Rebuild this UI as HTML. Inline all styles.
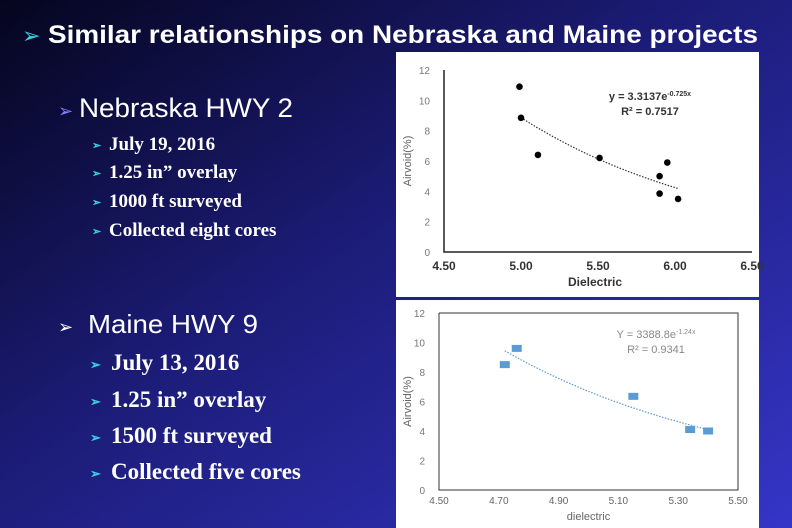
<!DOCTYPE html>
<html><head><meta charset="utf-8"><style>
html,body{margin:0;padding:0;width:792px;height:528px;overflow:hidden}
svg{display:block}
</style></head><body>
<svg id="page" width="792" height="528" viewBox="0 0 792 528" xmlns="http://www.w3.org/2000/svg">
<defs>
<linearGradient id="bg" x1="0" y1="0" x2="1" y2="1">
<stop offset="0" stop-color="#05051e"/><stop offset="0.45" stop-color="#1c1c78"/><stop offset="1" stop-color="#3535c8"/>
</linearGradient>
</defs>
<rect width="792" height="528" fill="url(#bg)"/>
<g font-family="Liberation Sans, sans-serif" fill="#fff">
<text x="22" y="43" font-size="22" fill="#3cd0e0">➢</text>
<text x="48" y="43" font-size="25" font-weight="bold" textLength="710" lengthAdjust="spacingAndGlyphs">Similar relationships on Nebraska and Maine projects</text>
<text x="58" y="117" font-size="18" fill="#8080ff">➢</text>
<text x="79" y="117" font-size="27" textLength="214" lengthAdjust="spacingAndGlyphs">Nebraska HWY 2</text>
<text x="58" y="333" font-size="18" fill="#fff">➢</text>
<text x="88" y="333" font-size="26" textLength="170" lengthAdjust="spacingAndGlyphs">Maine HWY 9</text>
</g>
<g font-family="Liberation Serif, serif" font-weight="bold" fill="#fff">
<g font-size="11" fill="#3cd0e0" font-family="Liberation Sans, sans-serif"><text x="92" y="149">➢</text><text x="92" y="177">➢</text><text x="92" y="206">➢</text><text x="92" y="235">➢</text></g>
<g font-size="19"><text x="109" y="150">July 19, 2016</text><text x="109" y="178">1.25 in” overlay</text><text x="109" y="207">1000 ft surveyed</text><text x="109" y="236">Collected eight cores</text></g>
</g>
<g font-family="Liberation Serif, serif" font-weight="bold" fill="#fff">
<g font-size="13" fill="#3cd0e0" font-family="Liberation Sans, sans-serif"><text x="90" y="369">➢</text><text x="90" y="406">➢</text><text x="90" y="442">➢</text><text x="90" y="478">➢</text></g>
<g font-size="23"><text x="111" y="370">July 13, 2016</text><text x="111" y="407">1.25 in” overlay</text><text x="111" y="443">1500 ft surveyed</text><text x="111" y="479">Collected five cores</text></g>
</g>
<g id="c1"></g>
<g id="c2"></g>
</svg>
<script>
const neX=[4.99,5.00,5.11,5.51,5.90,5.95,5.90,6.02];
const neY=[10.9,8.85,6.4,6.2,5.0,5.9,3.85,3.5];
const neXTicks=["4.50","5.00","5.50","6.00","6.50"];
const neYTicks=["0","2","4","6","8","10","12"];
const meX=[4.72,4.76,5.15,5.34,5.40];
const meY=[8.5,9.6,6.35,4.1,4.0];
const meXTicks=["4.50","4.70","4.90","5.10","5.30","5.50"];
const meYTicks=["0","2","4","6","8","10","12"];
const NS="http://www.w3.org/2000/svg";
function mk(p,t,a,txt){const e=document.createElementNS(NS,t);for(const k in a)e.setAttribute(k,a[k]);if(txt!==undefined)e.textContent=txt;p.appendChild(e);return e;}
function fitExp(xs,ys){let n=xs.length,sx=0,sy=0,sxx=0,sxy=0;for(let i=0;i<n;i++){const l=Math.log(ys[i]);sx+=xs[i];sy+=l;sxx+=xs[i]*xs[i];sxy+=xs[i]*l;}const b=(n*sxy-sx*sy)/(n*sxx-sx*sx);const a=(sy-b*sx)/n;return x=>Math.exp(a+b*x);}
function chart(g,o){
  mk(g,'rect',{x:o.px,y:o.py,width:o.pw,height:o.ph,fill:'#fff'});
  const X=v=>o.x0+(v-o.xmin)/(o.xmax-o.xmin)*(o.x1-o.x0);
  const Y=v=>o.y0-(v-o.ymin)/(o.ymax-o.ymin)*(o.y0-o.y1);
  const ax=mk(g,'path',{d:`M${o.x0},${o.y1}V${o.y0}H${o.x1}`+(o.box?`V${o.y1}H${o.x0}`:''),fill:'none',stroke:o.axc,'stroke-width':o.aw});
  
  o.yt.forEach(t=>{const e=mk(g,'text',{x:o.x0-14,y:Y(+t)+4,'font-size':10,fill:'#777','text-anchor':'end','font-family':'Liberation Sans, sans-serif'},t);});
  o.xt.forEach(t=>{const e=mk(g,'text',{x:X(+t),y:o.y0+o.xlo,'font-size':o.xfs,fill:o.xc,'font-weight':o.xw,'text-anchor':'middle','font-family':'Liberation Sans, sans-serif'},t);});
  const f=fitExp(o.xs,o.ys);const lo=Math.min(...o.xs.filter((v,i)=>o.ys[i]<10.5||!o.skip)),hi=Math.max(...o.xs);
  let d='';for(let i=0;i<=30;i++){const x=lo+(hi-lo)*i/30;d+=(i?'L':'M')+X(x).toFixed(1)+','+Y(f(x)).toFixed(1);}
  const tl=mk(g,'path',{d,fill:'none',stroke:o.tc,'stroke-width':1.2,'stroke-dasharray':'1.5,1.5'});
  o.xs.forEach((x,i)=>{let m;if(o.sq)m=mk(g,'rect',{x:X(x)-5,y:Y(o.ys[i])-3.5,width:10,height:7,fill:'#5b9bd5'});else m=mk(g,'circle',{cx:X(x),cy:Y(o.ys[i]),r:3.3,fill:'#000'});});
  const xl=mk(g,'text',{x:(o.x0+o.x1)/2+o.xtdx,y:o.xty,'font-size':o.xtfs,fill:o.xc,'font-weight':o.xw,'text-anchor':'middle','font-family':'Liberation Sans, sans-serif'},o.xtitle);
  const yl=mk(g,'text',{x:0,y:0,'font-size':11,fill:'#666','text-anchor':'middle','font-family':'Liberation Sans, sans-serif',transform:`translate(${o.ytx},${(o.y0+o.y1)/2}) rotate(-90)`},'Airvoid(%)');
  o.eq.forEach((l,i)=>{const e=mk(g,'text',{x:o.eqx,y:o.eqy+i*15,'font-size':11,fill:o.eqc,'font-weight':o.xw,'text-anchor':'middle','font-family':'Liberation Sans, sans-serif'});e.innerHTML=l;});
}
chart(document.getElementById('c1'),{px:396,py:52,pw:363,ph:245,x0:444,x1:752,y0:252,y1:70,xmin:4.5,xmax:6.5,ymin:0,ymax:12,
 xt:neXTicks,yt:neYTicks,xs:neX,ys:neY,skip:true,axc:'#222',aw:1.5,box:false,xlo:18,xfs:12,xc:'#333',xw:'bold',tc:'#333',
 xtitle:'Dielectric',xty:286,xtfs:12,xtdx:-3,ytx:411,eqx:650,eqy:100,eqc:'#333',
 eq:['y = 3.3137e<tspan font-size="7" dy="-4">-0.725x</tspan>','R² = 0.7517']});
chart(document.getElementById('c2'),{px:396,py:300,pw:363,ph:228,x0:439,x1:738,y0:490,y1:313,xmin:4.5,xmax:5.5,ymin:0,ymax:12,
 xt:meXTicks,yt:meYTicks,xs:meX,ys:meY,sq:true,axc:'#333',aw:1,box:true,xlo:14,xfs:10,xc:'#666',xw:'normal',tc:'#5b9bd5',
 xtitle:'dielectric',xty:520,xtfs:11,xtdx:0,ytx:411,eqx:656,eqy:338,eqc:'#888',
 eq:['Y = 3388.8e<tspan font-size="7" dy="-4">-1.24x</tspan>','R² = 0.9341']});
</script>
</body></html>
